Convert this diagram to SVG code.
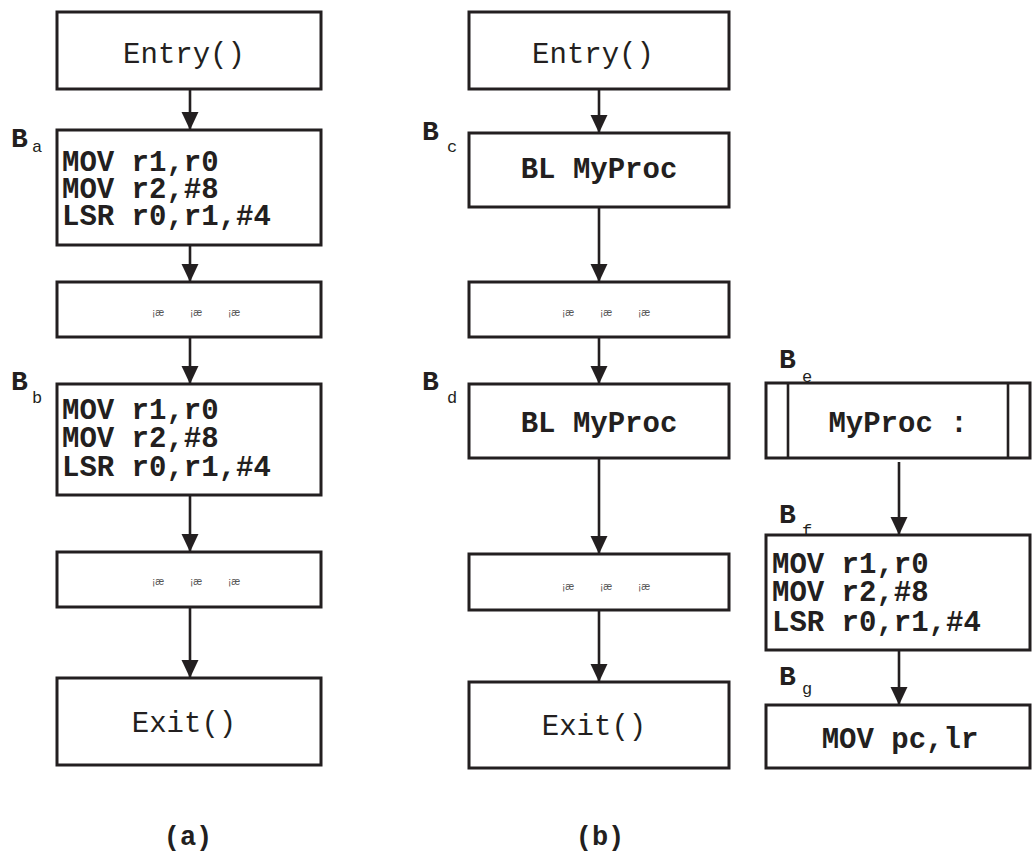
<svg xmlns="http://www.w3.org/2000/svg" width="1032" height="854" viewBox="0 0 1032 854">
<style>
.box{fill:#fff;stroke:#231f20;stroke-width:3}
.edge{fill:none;stroke:#231f20;stroke-width:2.6}
.reg{font-family:"Liberation Mono",monospace;font-size:29px;fill:#231f20}
.code{font-family:"Liberation Mono",monospace;font-size:29px;font-weight:bold;fill:#231f20}
.lb{font-family:"Liberation Mono",monospace;font-size:28px;font-weight:bold;fill:#231f20}
.sub{font-family:"Liberation Mono",monospace;font-size:17px;fill:#231f20}
.dots{font-family:"Liberation Sans",sans-serif;font-size:10px;fill:#555}
.cap{font-family:"Liberation Mono",monospace;font-size:27px;font-weight:bold;fill:#231f20;text-anchor:middle}
</style>
<defs>
<marker id="ah" markerUnits="userSpaceOnUse" markerWidth="18" markerHeight="18" viewBox="0 0 17 16" refX="17" refY="8" orient="auto">
<path d="M0,0 L17,8 L0,16 Z" fill="#231f20"/>
</marker>
</defs>
<g id="connectors">
<line class="edge" x1="190" y1="89" x2="190" y2="130" marker-end="url(#ah)"/>
<line class="edge" x1="190" y1="245" x2="190" y2="282" marker-end="url(#ah)"/>
<line class="edge" x1="190" y1="337" x2="190" y2="384" marker-end="url(#ah)"/>
<line class="edge" x1="190" y1="495" x2="190" y2="552" marker-end="url(#ah)"/>
<line class="edge" x1="190" y1="607" x2="190" y2="678" marker-end="url(#ah)"/>
<line class="edge" x1="599" y1="89" x2="599" y2="133" marker-end="url(#ah)"/>
<line class="edge" x1="599" y1="207" x2="599" y2="282" marker-end="url(#ah)"/>
<line class="edge" x1="599" y1="337" x2="599" y2="384" marker-end="url(#ah)"/>
<line class="edge" x1="599" y1="458" x2="599" y2="554" marker-end="url(#ah)"/>
<line class="edge" x1="599" y1="610" x2="599" y2="682" marker-end="url(#ah)"/>
<line class="edge" x1="899" y1="462" x2="899" y2="535" marker-end="url(#ah)"/>
<line class="edge" x1="899" y1="650" x2="899" y2="705" marker-end="url(#ah)"/>
</g>
<g id="a-entry">
<rect class="box" x="57" y="12" width="264" height="77"/>
<text class="reg" x="184" y="63" text-anchor="middle">Entry()</text>
</g>
<g id="Ba">
<text class="lb" x="11" y="147">B</text>
<text class="sub" x="32" y="152">a</text>
<rect class="box" x="57" y="130" width="264" height="115"/>
<text class="code" x="62" y="171">MOV r1,r0</text>
<text class="code" x="62" y="198">MOV r2,#8</text>
<text class="code" x="62" y="225">LSR r0,r1,#4</text>
</g>
<g id="a-dots1">
<rect class="box" x="57" y="282" width="264" height="55"/>
<text class="dots" x="152" y="316">¡æ</text>
<text class="dots" x="190" y="316">¡æ</text>
<text class="dots" x="228" y="316">¡æ</text>
</g>
<g id="Bb">
<text class="lb" x="11" y="390">B</text>
<text class="sub" x="32" y="403">b</text>
<rect class="box" x="57" y="384" width="264" height="111"/>
<text class="code" x="62" y="419">MOV r1,r0</text>
<text class="code" x="62" y="447">MOV r2,#8</text>
<text class="code" x="62" y="476">LSR r0,r1,#4</text>
</g>
<g id="a-dots2">
<rect class="box" x="57" y="552" width="264" height="55"/>
<text class="dots" x="152" y="585">¡æ</text>
<text class="dots" x="190" y="585">¡æ</text>
<text class="dots" x="228" y="585">¡æ</text>
</g>
<g id="a-exit">
<rect class="box" x="57" y="678" width="264" height="87"/>
<text class="reg" x="184" y="732" text-anchor="middle">Exit()</text>
</g>
<g id="b-entry">
<rect class="box" x="469" y="12" width="260" height="77"/>
<text class="reg" x="593" y="63" text-anchor="middle">Entry()</text>
</g>
<g id="Bc">
<text class="lb" x="422" y="140">B</text>
<text class="sub" x="447" y="152">c</text>
<rect class="box" x="469" y="133" width="260" height="74"/>
<text class="code" x="599" y="178" text-anchor="middle">BL MyProc</text>
</g>
<g id="b-dots1">
<rect class="box" x="469" y="282" width="260" height="55"/>
<text class="dots" x="562" y="316">¡æ</text>
<text class="dots" x="600" y="316">¡æ</text>
<text class="dots" x="638" y="316">¡æ</text>
</g>
<g id="Bd">
<text class="lb" x="422" y="390">B</text>
<text class="sub" x="447" y="403">d</text>
<rect class="box" x="469" y="384" width="260" height="74"/>
<text class="code" x="599" y="432" text-anchor="middle">BL MyProc</text>
</g>
<g id="b-dots2">
<rect class="box" x="469" y="554" width="260" height="56"/>
<text class="dots" x="562" y="590">¡æ</text>
<text class="dots" x="600" y="590">¡æ</text>
<text class="dots" x="638" y="590">¡æ</text>
</g>
<g id="b-exit">
<rect class="box" x="469" y="682" width="260" height="86"/>
<text class="reg" x="594" y="735" text-anchor="middle">Exit()</text>
</g>
<g id="Be">
<text class="lb" x="779" y="368">B</text>
<text class="sub" x="802" y="382">e</text>
<rect class="box" x="766" y="383" width="264" height="75"/>
<line class="edge" x1="788" y1="383" x2="788" y2="458"/>
<line class="edge" x1="1008" y1="383" x2="1008" y2="458"/>
<text class="code" x="898" y="432" text-anchor="middle">MyProc :</text>
</g>
<g id="Bf">
<text class="lb" x="779" y="523">B</text>
<text class="sub" x="802" y="536">f</text>
<rect class="box" x="766" y="535" width="264" height="115"/>
<text class="code" x="772" y="573">MOV r1,r0</text>
<text class="code" x="772" y="601">MOV r2,#8</text>
<text class="code" x="772" y="631">LSR r0,r1,#4</text>
</g>
<g id="Bg">
<text class="lb" x="779" y="685">B</text>
<text class="sub" x="802" y="694">g</text>
<rect class="box" x="766" y="705" width="264" height="63"/>
<text class="code" x="900" y="748" text-anchor="middle">MOV pc,lr</text>
</g>
<g id="captions">
<text class="cap" x="188" y="845">(a)</text>
<text class="cap" x="600" y="845">(b)</text>
</g>
</svg>
